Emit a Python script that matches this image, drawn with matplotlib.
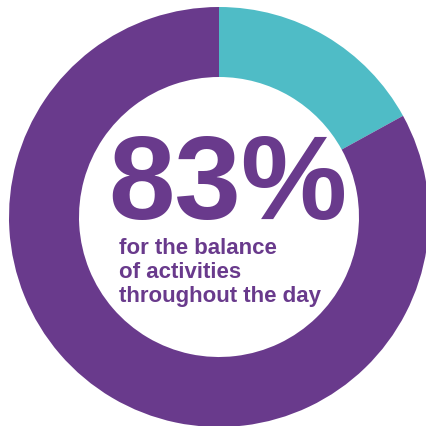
import matplotlib
matplotlib.use("Agg")
import matplotlib.pyplot as plt

# Data
labels = ["other", "balance of activities"]
shares = [17, 83]
colors = ["#4fbcc6", "#693a8c"]
headline = "83%"
caption = "for the balance\nof activities\nthroughout the day"

W, H = 427, 426
fig = plt.figure(figsize=(W / 100, H / 100), dpi=100)
ax = fig.add_axes([0, 0, 1, 1])

# donut, in pixel-like data coords (y up)
ax.pie(shares, colors=colors, startangle=90, counterclock=False,
       radius=210, center=(219, H - 217),
       wedgeprops=dict(width=70, linewidth=0))

ax.text(108, H - 219, headline, ha="left", va="baseline",
        fontsize=86, fontweight="bold", family="Liberation Sans",
        color=colors[1])
ax.text(119, H - 238, caption, ha="left", va="top",
        fontsize=16, fontweight="bold", family="Liberation Sans",
        color=colors[1], linespacing=1.2, multialignment="left")

ax.set_xlim(0, W)
ax.set_ylim(0, H)
ax.set_aspect("equal")
ax.axis("off")
fig.savefig("out.png", dpi=100)
